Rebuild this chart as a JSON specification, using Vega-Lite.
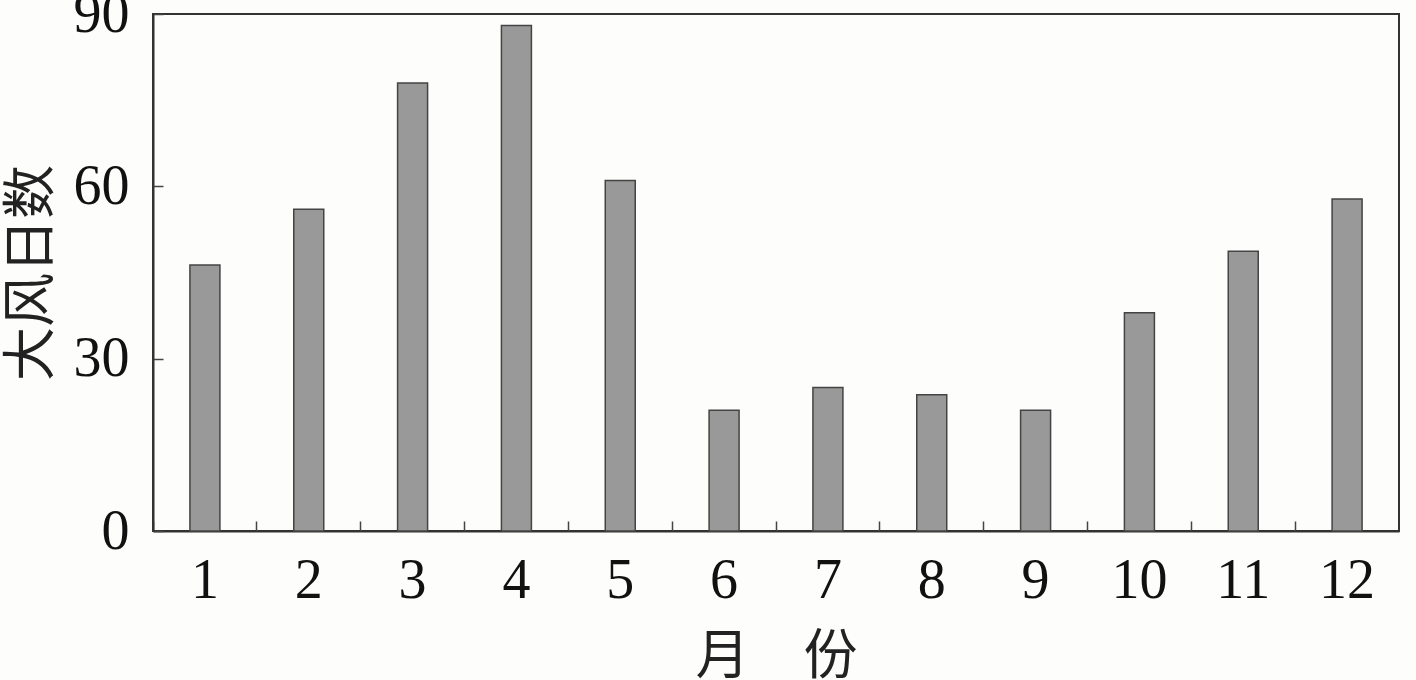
{
  "$schema": "https://vega.github.io/schema/vega-lite/v6.json",
  "autosize": "none",
  "width": 1246,
  "height": 517,
  "padding": {"left": 153, "top": 14, "right": 17, "bottom": 149},
  "background": "#fdfdfc",
  "config": {
    "view": {"stroke": "#333333", "strokeWidth": 2},
    "axis": {
      "labelFont": "Liberation Serif",
      "labelFontSize": 56,
      "labelColor": "#111111",
      "titleFont": "Noto Sans CJK SC",
      "titleFontSize": 54,
      "titleFontWeight": "normal",
      "titleColor": "#222222",
      "domainColor": "#333333",
      "domainWidth": 2,
      "tickColor": "#444444",
      "tickWidth": 1.5,
      "grid": false
    }
  },
  "data": {
    "values": [
      {"month": "1", "days": 46.3},
      {"month": "2", "days": 56},
      {"month": "3", "days": 78},
      {"month": "4", "days": 88},
      {"month": "5", "days": 61},
      {"month": "6", "days": 21},
      {"month": "7", "days": 25},
      {"month": "8", "days": 23.7},
      {"month": "9", "days": 21},
      {"month": "10", "days": 38},
      {"month": "11", "days": 48.7},
      {"month": "12", "days": 57.8}
    ]
  },
  "resolve": {"axis": {"x": "independent"}},
  "layer": [
    {
      "mark": {"type": "bar", "width": 30, "fill": "#999999", "stroke": "#444444", "strokeWidth": 1.5},
      "encoding": {
        "x": {
          "field": "month",
          "type": "ordinal",
          "sort": null,
          "scale": {"paddingInner": 0, "paddingOuter": 0},
          "axis": {
            "orient": "bottom",
            "title": "月　份",
            "labelAngle": 0,
            "ticks": false,
            "labelPadding": 22,
            "titlePadding": 22
          }
        },
        "y": {
          "field": "days",
          "type": "quantitative",
          "scale": {"domain": [0, 90], "nice": false},
          "axis": {
            "title": "大风日数",
            "values": [0, 30, 60, 90],
            "tickSize": -10,
            "labelPadding": 34,
            "titlePadding": 14
          }
        }
      }
    },
    {
      "mark": {"type": "bar", "opacity": 0},
      "encoding": {
        "x": {
          "field": "month",
          "type": "ordinal",
          "sort": null,
          "axis": {
            "orient": "bottom",
            "title": null,
            "labels": false,
            "domain": false,
            "bandPosition": 0,
            "tickSize": -10
          }
        },
        "y": {"field": "days", "type": "quantitative"}
      }
    }
  ]
}
